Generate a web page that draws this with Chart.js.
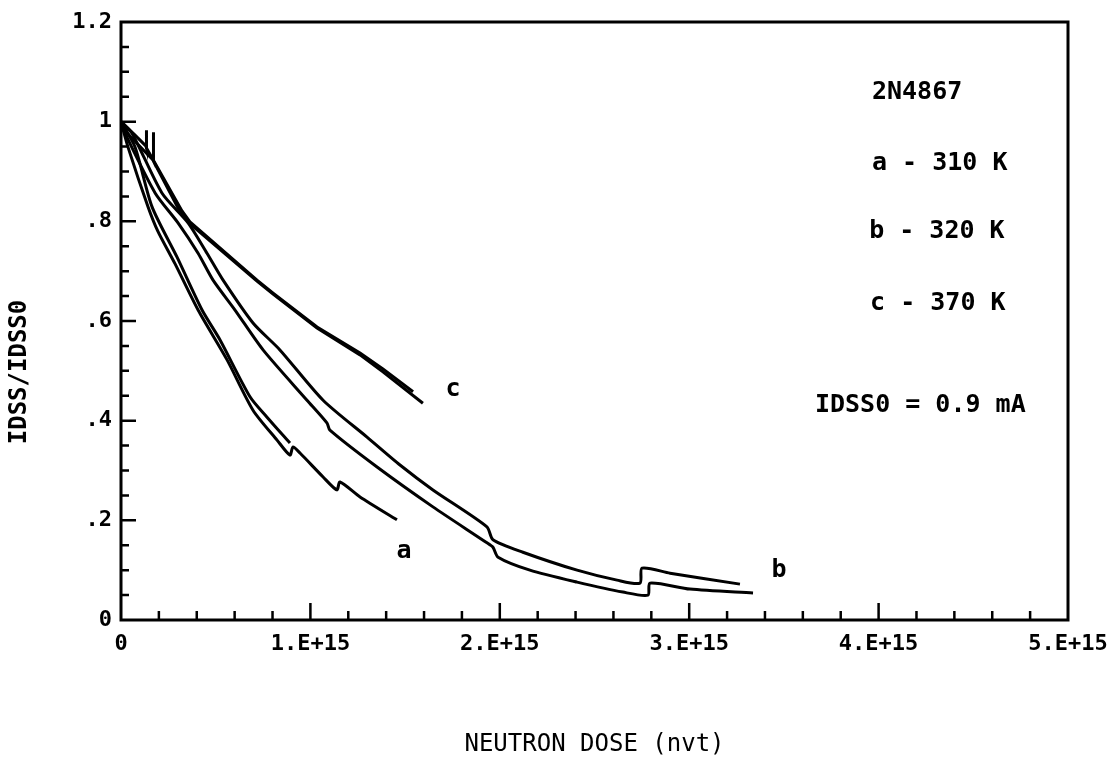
<!DOCTYPE html>
<html>
<head>
<meta charset="utf-8">
<script src="https://cdn.jsdelivr.net/npm/chart.js@4.4.1/dist/chart.umd.min.js"></script>
<style>
  html, body { margin: 0; padding: 0; background: #fff; }
  #wrap { width: 1108px; height: 766px; position: relative; }
</style>
</head>
<body>
<div id="wrap"><canvas id="chart"></canvas></div>
<script>
// dose is in units of 1E+15 nvt, ratio is IDSS/IDSS0

// a - 310 K
const aLowDose  = [0, 0.037, 0.143, 0.195, 0.285, 0.407, 0.560, 0.697, 0.824, 0.892, 0.908, 0.945, 1.067, 1.140, 1.156, 1.262, 1.457];
const aLowRatio = [1.0, 0.949, 0.829, 0.780, 0.715, 0.622, 0.522, 0.421, 0.361, 0.331, 0.347, 0.335, 0.287, 0.261, 0.277, 0.247, 0.201];
const aHighDose  = [0, 0.074, 0.164, 0.296, 0.428, 0.523, 0.681, 0.771, 0.892];
const aHighRatio = [1.0, 0.949, 0.829, 0.728, 0.622, 0.562, 0.448, 0.407, 0.355];

// b - 320 K
const bHighDose  = [0, 0.058, 0.216, 0.354, 0.454, 0.539, 0.697, 0.839, 1.067, 1.299, 1.473, 1.647, 1.932, 1.964, 2.122, 2.408, 2.619, 2.740, 2.751, 2.899, 3.268];
const bHighRatio = [1.0, 0.977, 0.857, 0.797, 0.736, 0.682, 0.596, 0.542, 0.441, 0.367, 0.311, 0.261, 0.187, 0.161, 0.136, 0.100, 0.080, 0.074, 0.104, 0.094, 0.072];
const bLowDose  = [0, 0.021, 0.180, 0.301, 0.407, 0.486, 0.602, 0.750, 0.982, 1.088, 1.103, 1.352, 1.647, 1.932, 1.964, 1.991, 2.159, 2.408, 2.650, 2.782, 2.793, 3.004, 3.337];
const bLowRatio = [1.0, 0.977, 0.857, 0.797, 0.736, 0.682, 0.622, 0.542, 0.441, 0.395, 0.381, 0.307, 0.227, 0.155, 0.146, 0.126, 0.100, 0.076, 0.056, 0.050, 0.074, 0.062, 0.054];

// c - 370 K
const cHighDose  = [0, 0.074, 0.132, 0.132, 0.137, 0.322, 0.364, 0.718, 0.803, 1.035, 1.262, 1.383, 1.542];
const cHighRatio = [1.0, 0.973, 0.951, 0.983, 0.947, 0.821, 0.799, 0.682, 0.656, 0.588, 0.536, 0.504, 0.458];
const cLowDose  = [0, 0.037, 0.169, 0.169, 0.174, 0.301, 0.364, 0.718, 0.803, 1.035, 1.262, 1.383, 1.594];
const cLowRatio = [1.0, 0.975, 0.923, 0.979, 0.921, 0.827, 0.795, 0.680, 0.654, 0.586, 0.532, 0.498, 0.435];

const xTicks = [0, 1, 2, 3, 4, 5];
const xTickLabels = ['0', '1.E+15', '2.E+15', '3.E+15', '4.E+15', '5.E+15'];
const yTickLabels = ['0', '.2', '.4', '.6', '.8', '1', '1.2'];

// text notes, placed at [dose, ratio]
const notes = [
  ['2N4867', 3.965, 1.058, 'left'],
  ['a - 310 K', 3.965, 0.917, 'left'],
  ['b - 320 K', 3.950, 0.779, 'left'],
  ['c - 370 K', 3.955, 0.636, 'left'],
  ['IDSS0 = 0.9 mA', 3.664, 0.431, 'left'],
  ['a', 1.494, 0.138, 'center'],
  ['b', 3.474, 0.100, 'center'],
  ['c', 1.753, 0.462, 'center']
];

const FONT = "'DejaVu Sans Mono', monospace";

function pts(xs, ys) {
  return xs.map((x, i) => ({x: x, y: ys[i]}));
}

function line(data, tension) {
  return {
    data: data,
    showLine: true,
    borderColor: '#000',
    borderWidth: 3,
    pointRadius: 0,
    tension: tension,
    fill: false
  };
}

const frame = {
  id: 'frame',
  beforeDraw(chart) {
    const ctx = chart.ctx;
    ctx.save();
    ctx.fillStyle = '#fff';
    ctx.fillRect(0, 0, chart.width, chart.height);
    ctx.restore();
  },
  afterDraw(chart) {
    const {ctx, chartArea: a, scales: {x, y}} = chart;
    ctx.save();
    ctx.strokeStyle = '#000';
    ctx.lineWidth = 3;
    ctx.strokeRect(a.left, a.top, a.right - a.left, a.bottom - a.top);

    // inward ticks, 4 minor between majors
    ctx.lineWidth = 2.5;
    ctx.beginPath();
    for (let i = 1; i < 25; i++) {
      const px = x.getPixelForValue(i * 0.2);
      const len = i % 5 ? 9 : 17;
      ctx.moveTo(px, a.bottom);
      ctx.lineTo(px, a.bottom - len);
    }
    for (let i = 1; i < 24; i++) {
      const py = y.getPixelForValue(i * 0.05);
      const len = i % 4 ? 8 : 15;
      ctx.moveTo(a.left, py);
      ctx.lineTo(a.left + len, py);
    }
    ctx.stroke();

    ctx.fillStyle = '#000';
    ctx.textBaseline = 'middle';
    ctx.font = 'bold 25px ' + FONT;
    notes.forEach(n => {
      ctx.textAlign = n[3];
      ctx.fillText(n[0], x.getPixelForValue(n[1]), y.getPixelForValue(n[2]));
    });

    // y axis title
    ctx.translate(20, 372);
    ctx.rotate(-Math.PI / 2);
    ctx.textAlign = 'center';
    ctx.font = 'bold 24px ' + FONT;
    ctx.fillText('IDSS/IDSS0', 0, 0);
    ctx.restore();
  }
};

new Chart(document.getElementById('chart'), {
  type: 'scatter',
  data: {
    datasets: [
      line(pts(aLowDose, aLowRatio), 0.25),
      line(pts(aHighDose, aHighRatio), 0.25),
      line(pts(bHighDose, bHighRatio), 0.25),
      line(pts(bLowDose, bLowRatio), 0.25),
      line(pts(cHighDose, cHighRatio), 0),
      line(pts(cLowDose, cLowRatio), 0)
    ]
  },
  options: {
    responsive: true,
    maintainAspectRatio: false,
    animation: false,
    layout: { padding: { top: 22, right: 40, left: 0, bottom: 0 } },
    plugins: {
      legend: { display: false },
      tooltip: { enabled: false }
    },
    scales: {
      x: {
        type: 'linear',
        min: 0,
        max: 5,
        afterBuildTicks: s => { s.ticks = xTicks.map(v => ({value: v})); },
        afterFit: s => { s.height = 146; s.paddingLeft = 0; s.paddingRight = 0; },
        grid: { display: false, drawTicks: false },
        border: { display: false },
        ticks: {
          padding: 11,
          color: '#000',
          font: { family: FONT, size: 22, weight: 'bold' },
          maxRotation: 0,
          callback: (v, i) => xTickLabels[i]
        },
        title: {
          display: true,
          text: 'NEUTRON DOSE (nvt)',
          color: '#000',
          font: { family: FONT, size: 24, weight: 'normal' },
          padding: { top: 0, bottom: 7 }
        }
      },
      y: {
        type: 'linear',
        min: 0,
        max: 1.2,
        afterBuildTicks: s => { s.ticks = yTickLabels.map((t, i) => ({value: i * 0.2})); },
        afterFit: s => { s.width = 121; s.paddingTop = 0; s.paddingBottom = 0; },
        grid: { display: false, drawTicks: false },
        border: { display: false },
        ticks: {
          padding: 9,
          color: '#000',
          font: { family: FONT, size: 22, weight: 'bold' },
          callback: (v, i) => yTickLabels[i]
        }
      }
    }
  },
  plugins: [frame]
});
</script>
</body>
</html>
